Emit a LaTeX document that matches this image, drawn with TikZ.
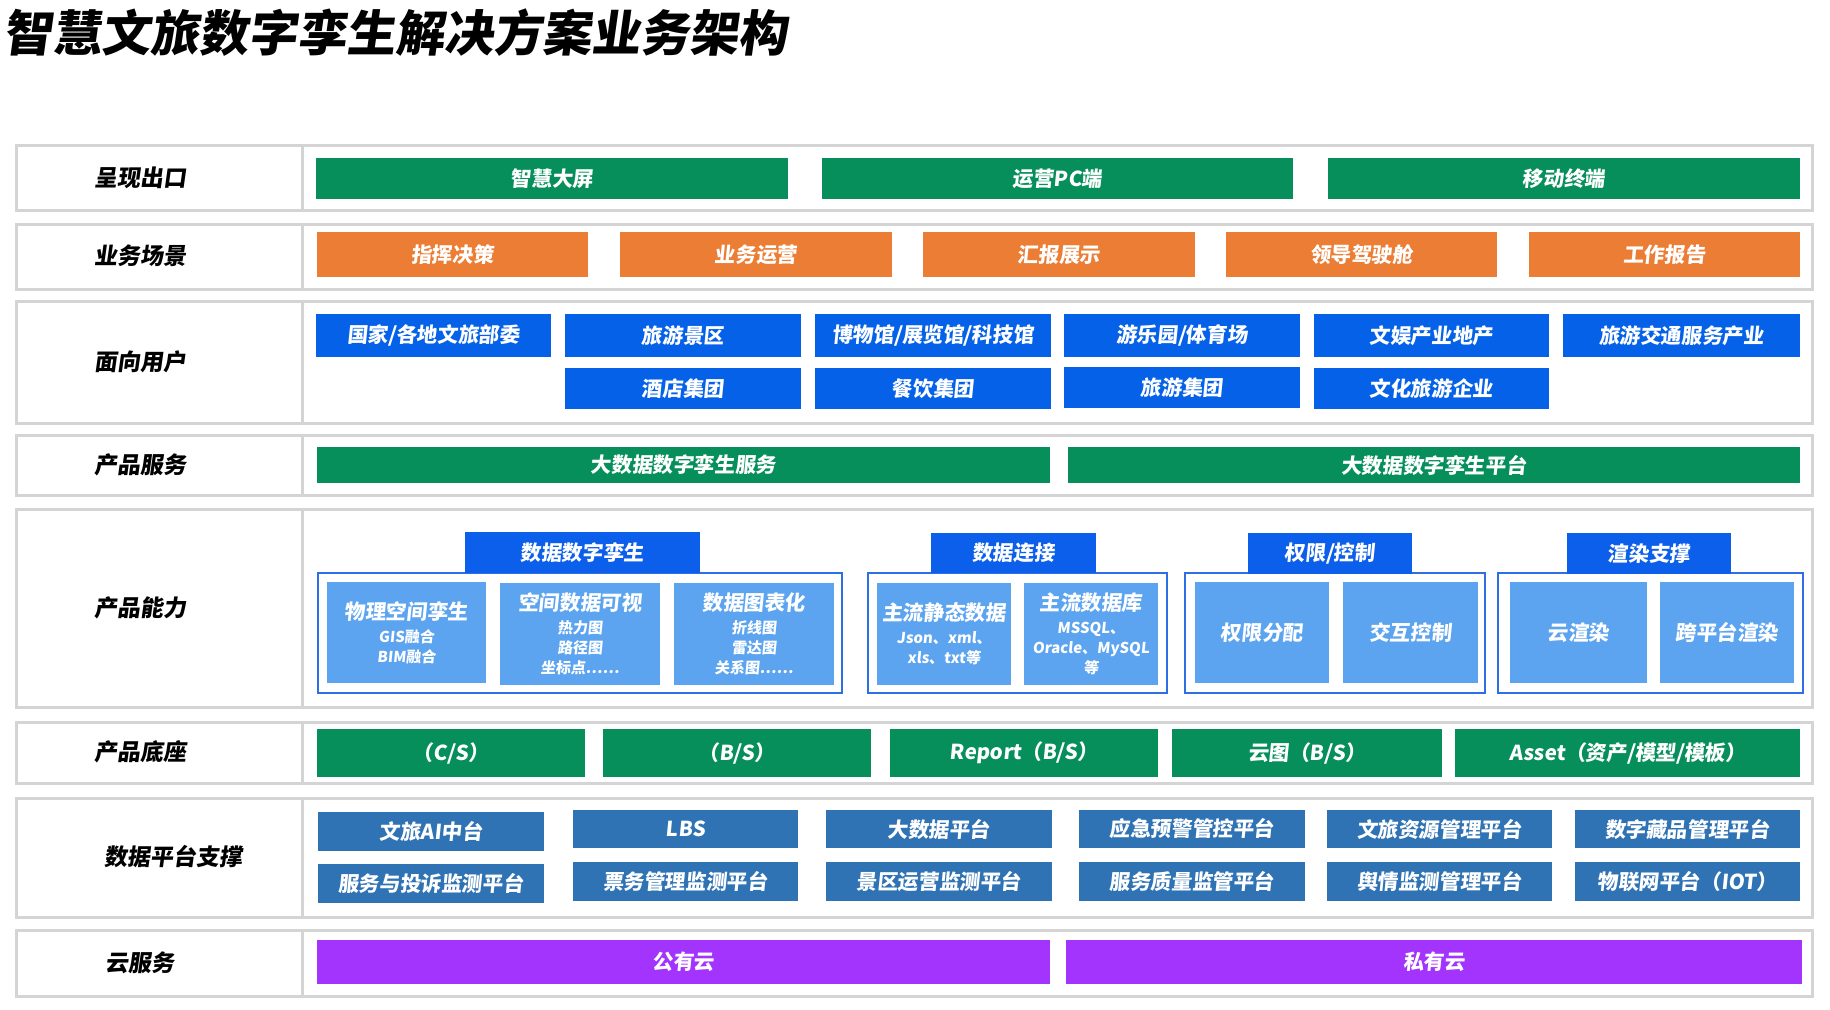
\documentclass[tikz,border=0pt]{standalone}
\usepackage{fontspec}
\newfontfamily\cnf{Noto Sans CJK SC}[FakeSlant=0.1]
\newfontfamily\labf{Noto Sans CJK SC}[FakeSlant=0.14]
\definecolor{cgreen}{HTML}{068F5B}
\definecolor{corange}{HTML}{EB7D34}
\definecolor{cblue}{HTML}{0562E8}
\definecolor{ctab}{HTML}{0B5FEA}
\definecolor{cframe}{HTML}{2E6FE6}
\definecolor{clight}{HTML}{5CA4EF}
\definecolor{csteel}{HTML}{2F73B4}
\definecolor{cpurple}{HTML}{A234FD}
\definecolor{lgray}{HTML}{D4D4D4}
\newcommand\mybox[7]{\node[#2, minimum width={(#5-#3)*0.5pt}, minimum height={(#6-#4)*0.5pt}] (#1) at ({(#3+#5)/2},{(#4+#6)/2}) {#7};}
\tikzset{
  cell/.style={inner sep=0pt, outer sep=0pt, text=white, align=center, font=\cnf\bfseries\fontsize{10.3pt}{12pt}\selectfont},
  gbox/.style={cell, fill=cgreen},
  obox/.style={cell, fill=corange},
  bbox/.style={cell, fill=cblue},
  tabbox/.style={cell, fill=ctab},
  lbox/.style={cell, fill=clight},
  sbox/.style={cell, fill=csteel},
  pbox/.style={cell, fill=cpurple},
  gframe/.style={inner sep=0pt, outer sep=0pt, draw=cframe, line width=1.25pt},
  rowframe/.style={draw=lgray, line width=1.5pt},
  rowlabel/.style={inner sep=0pt, text=black, font=\labf\bfseries\fontsize{11.5pt}{13pt}\selectfont},
  sub/.style={font=\cnf\bfseries\fontsize{7.5pt}{10pt}\selectfont},
}
\newcommand\bigline[1]{{\fontsize{10.3pt}{10pt}\selectfont #1}}
\begin{document}
\begin{tikzpicture}[x=0.5pt, y=-0.5pt]
\useasboundingbox (0,0) rectangle (1830,1009);
% title
\node[anchor=west, inner sep=0pt, font=\labf\bfseries\fontsize{24.5pt}{26pt}\selectfont] (title) at (3,33) {智慧文旅数字孪生解决方案业务架构};
% row frames
\foreach \ya/\yb in {145/210, 224/289, 301/423, 435/495, 509/707, 722/783, 798/917, 930/996} {
  \draw[rowframe] (16,\ya) rectangle (1812,\yb);
  \draw[rowframe] (302,\ya) -- (302,\yb);
}
% labels
\node[rowlabel] (l1) at (140,178) {呈现出口};
\node[rowlabel] (l2) at (140,256) {业务场景};
\node[rowlabel] (l3) at (140,362) {面向用户};
\node[rowlabel] (l4) at (140,465) {产品服务};
\node[rowlabel] (l5) at (140,608) {产品能力};
\node[rowlabel] (l6) at (140,752) {产品底座};
\node[rowlabel] (l7) at (173,857) {数据平台支撑};
\node[rowlabel] (l8) at (140,963) {云服务};
% row 1
\mybox{g1}{gbox}{316}{158}{788}{199}{智慧大屏}
\mybox{g2}{gbox}{822}{158}{1293}{199}{运营PC端}
\mybox{g3}{gbox}{1328}{158}{1800}{199}{移动终端}
% row 2
\mybox{o1}{obox}{317}{232}{588}{277}{指挥决策}
\mybox{o2}{obox}{620}{232}{892}{277}{业务运营}
\mybox{o3}{obox}{923}{232}{1195}{277}{汇报展示}
\mybox{o4}{obox}{1226}{232}{1497}{277}{领导驾驶舱}
\mybox{o5}{obox}{1529}{232}{1800}{277}{工作报告}
% row 3
\mybox{u1}{bbox}{316}{314}{551}{357}{国家/各地文旅部委}
\mybox{u2}{bbox}{565}{314}{801}{357}{旅游景区}
\mybox{u3}{bbox}{815}{314}{1051}{357}{博物馆/展览馆/科技馆}
\mybox{u4}{bbox}{1064}{314}{1300}{357}{游乐园/体育场}
\mybox{u5}{bbox}{1314}{314}{1549}{357}{文娱产业地产}
\mybox{u6}{bbox}{1563}{314}{1800}{357}{旅游交通服务产业}
\mybox{u7}{bbox}{565}{368}{801}{409}{酒店集团}
\mybox{u8}{bbox}{815}{368}{1051}{409}{餐饮集团}
\mybox{u9}{bbox}{1064}{367}{1300}{408}{旅游集团}
\mybox{u10}{bbox}{1314}{368}{1549}{409}{文化旅游企业}
% row 4
\mybox{s1}{gbox}{317}{447}{1050}{483}{大数据数字孪生服务}
\mybox{s2}{gbox}{1068}{447}{1800}{483}{大数据数字孪生平台}
% row 5 frames
\mybox{f1}{gframe}{318}{573}{842}{693}{}
\mybox{f2}{gframe}{868}{573}{1167}{693}{}
\mybox{f3}{gframe}{1185}{573}{1485}{693}{}
\mybox{f4}{gframe}{1498}{573}{1803}{693}{}
\mybox{t1}{tabbox}{465}{532}{700}{573}{数据数字孪生}
\mybox{t2}{tabbox}{931}{533}{1096}{573}{数据连接}
\mybox{t3}{tabbox}{1248}{533}{1412}{574}{权限/控制}
\mybox{t4}{tabbox}{1567}{533}{1731}{574}{渲染支撑}
\mybox{c1}{lbox,sub}{327}{582}{486}{683}{\bigline{物理空间孪生}\\[1.5pt]GIS融合\\BIM融合}
\mybox{c2}{lbox,sub}{500}{583}{660}{685}{\bigline{空间数据可视}\\[1.5pt]热力图\\路径图\\坐标点……}
\mybox{c3}{lbox,sub}{674}{583}{834}{685}{\bigline{数据图表化}\\[1.5pt]折线图\\雷达图\\关系图……}
\mybox{c4}{lbox,sub}{877}{583}{1011}{685}{\bigline{主流静态数据}\\[1.5pt]Json、xml、\\xls、txt等}
\mybox{c5}{lbox,sub}{1024}{583}{1158}{685}{\bigline{主流数据库}\\[1.5pt]MSSQL、\\Oracle、MySQL\\等}
\mybox{c6}{lbox}{1195}{582}{1329}{683}{权限分配}
\mybox{c7}{lbox}{1343}{582}{1478}{683}{交互控制}
\mybox{c8}{lbox}{1510}{582}{1647}{683}{云渲染}
\mybox{c9}{lbox}{1660}{582}{1794}{683}{跨平台渲染}
% row 6
\mybox{b1}{gbox}{317}{729}{585}{777}{（C/S）}
\mybox{b2}{gbox}{603}{729}{871}{777}{（B/S）}
\mybox{b3}{gbox}{890}{729}{1158}{777}{Report（B/S）}
\mybox{b4}{gbox}{1172}{729}{1442}{777}{云图（B/S）}
\mybox{b5}{gbox}{1455}{729}{1800}{777}{Asset（资产/模型/模板）}
% row 7
\mybox{d1}{sbox}{318}{812}{544}{851}{文旅AI中台}
\mybox{d2}{sbox}{573}{810}{798}{848}{LBS}
\mybox{d3}{sbox}{826}{810}{1052}{848}{大数据平台}
\mybox{d4}{sbox}{1079}{810}{1305}{848}{应急预警管控平台}
\mybox{d5}{sbox}{1327}{810}{1552}{848}{文旅资源管理平台}
\mybox{d6}{sbox}{1575}{810}{1800}{848}{数字藏品管理平台}
\mybox{d7}{sbox}{318}{864}{544}{903}{服务与投诉监测平台}
\mybox{d8}{sbox}{573}{862}{798}{901}{票务管理监测平台}
\mybox{d9}{sbox}{826}{862}{1052}{901}{景区运营监测平台}
\mybox{d10}{sbox}{1079}{862}{1305}{901}{服务质量监管平台}
\mybox{d11}{sbox}{1327}{862}{1552}{901}{舆情监测管理平台}
\mybox{d12}{sbox}{1575}{862}{1800}{901}{物联网平台（IOT）}
% row 8
\mybox{p1}{pbox}{317}{940}{1050}{984}{公有云}
\mybox{p2}{pbox}{1066}{940}{1802}{984}{私有云}
\end{tikzpicture}
\end{document}
